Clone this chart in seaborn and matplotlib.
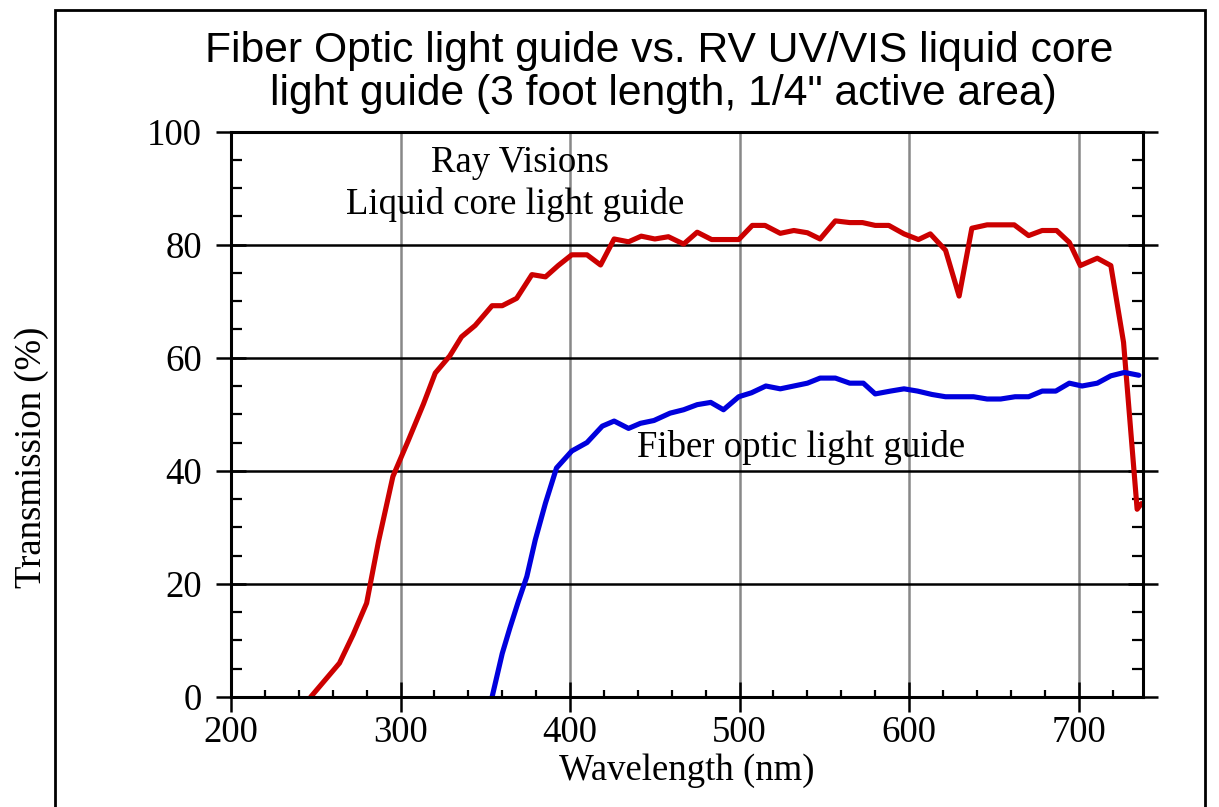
import pandas as pd
import matplotlib
matplotlib.use("Agg")
import matplotlib.pyplot as plt
import seaborn as sns
from matplotlib.ticker import MultipleLocator
from matplotlib.patches import Rectangle

# Data
red_nm = [247, 264, 272, 280, 287, 295.5, 304.5, 313.5, 320.5, 329,
          336, 344, 354, 360, 368.5, 377.5, 385.5, 393, 401, 410,
          418, 426, 434.5, 442, 450, 458, 467, 475, 483.5, 491.5,
          499.5, 507.5, 515, 524, 532, 540, 547.5, 556.5, 565, 572.5,
          580, 588, 597, 605.5, 612.5, 621.5, 629.5, 637, 646, 654,
          662, 670.5, 678.5, 687, 694.5, 701, 711, 719, 726.5, 734.5, 737]
red_pct = [0, 6, 11, 16.6, 27.5, 39, 45.3, 51.8, 57.3, 60.3,
           63.7, 65.7, 69.2, 69.2, 70.5, 74.7, 74.3, 76.3, 78.2, 78.2,
           76.4, 81, 80.5, 81.5, 81, 81.4, 80.1, 82.2, 80.9, 80.9,
           80.9, 83.4, 83.4, 82, 82.5, 82.1, 81, 84.2, 83.9, 83.9,
           83.4, 83.4, 81.9, 80.9, 81.9, 79, 70.9, 82.9, 83.5, 83.5,
           83.5, 81.6, 82.5, 82.5, 80.4, 76.3, 77.6, 76.3, 62.7, 33.2, 34.2]

blue_nm = [354, 360, 364.5, 369.5, 374.5, 379.5, 385.5, 392, 401, 410,
           419, 426, 434.5, 441.5, 449.5, 459, 467, 475, 483, 490.5,
           499.5, 507, 515.5, 524, 532, 540, 547.5, 556.5, 565, 573,
           580, 589, 597, 605, 613.5, 621.5, 629.5, 638, 646, 654,
           662.5, 670.5, 678.5, 686.5, 694.5, 702, 711, 719, 727, 735.5]
blue_pct = [0, 7.7, 12.2, 16.9, 21.3, 27.8, 34.3, 40.5, 43.5, 45,
            47.9, 48.8, 47.5, 48.4, 48.9, 50.2, 50.8, 51.7, 52.1, 50.8,
            53.1, 53.8, 55, 54.5, 55, 55.5, 56.4, 56.4, 55.5, 55.5,
            53.6, 54.1, 54.5, 54.1, 53.5, 53.1, 53.1, 53.1, 52.7, 52.7,
            53.1, 53.1, 54.1, 54.1, 55.5, 55, 55.5, 56.8, 57.4, 56.9]

guides = ["Liquid core", "Fiber optic"]
colors = {"Liquid core": "#CC0000", "Fiber optic": "#0000DD"}

df = pd.concat([
    pd.DataFrame({"nm": red_nm, "pct": red_pct, "guide": guides[0]}),
    pd.DataFrame({"nm": blue_nm, "pct": blue_pct, "guide": guides[1]}),
])

sns.set_style("white")
plt.rcParams["font.family"] = ["Liberation Serif", "DejaVu Serif"]
plt.rcParams["text.color"] = "black"
plt.rcParams["axes.labelcolor"] = "black"
plt.rcParams["xtick.color"] = "black"
plt.rcParams["ytick.color"] = "black"

fs = 26.5

fig = plt.figure(figsize=(12.19, 8.07), dpi=100)
ax = fig.add_axes([0.1895, 0.1363, 0.7482, 0.7007])

sns.lineplot(data=df, x="nm", y="pct", hue="guide", palette=colors,
             linewidth=3.7, errorbar=None, legend=False, sort=False, ax=ax)

ax.set_xlim(200, 738)
ax.set_ylim(0, 100)
ax.xaxis.set_major_locator(MultipleLocator(100))
ax.xaxis.set_minor_locator(MultipleLocator(20))
ax.yaxis.set_major_locator(MultipleLocator(20))
ax.yaxis.set_minor_locator(MultipleLocator(5))

ax.set_axisbelow(True)
ax.xaxis.grid(True, color="#888888", linewidth=1.8)
ax.yaxis.grid(True, color="black", linewidth=1.8)

for s in ax.spines.values():
    s.set_visible(True)
    s.set_color("black")
    s.set_linewidth(2.2)

ax.tick_params(axis="x", which="major", direction="inout", length=22, width=1.8,
               bottom=True, top=False, labelsize=fs, pad=2)
ax.tick_params(axis="x", which="minor", direction="in", length=5, width=1.6,
               bottom=True, top=False)
ax.tick_params(axis="y", which="major", direction="inout", length=22, width=1.8,
               left=True, right=True, labelsize=fs, pad=10)
ax.tick_params(axis="y", which="minor", direction="in", length=8, width=1.6,
               left=True, right=True)

ax.set_xlabel("Wavelength (nm)", fontsize=fs)
ax.set_ylabel("Transmission (%)", fontsize=fs)
ax.xaxis.set_label_coords(0.5, -0.10)
ax.yaxis.set_label_coords(-0.2, 0.424)

ax.text(370.6, 92.8, "Ray Visions", fontsize=fs, ha="center", va="baseline")
ax.text(367.6, 85.4, "Liquid core light guide", fontsize=fs, ha="center", va="baseline")
ax.text(439.7, 42.5, "Fiber optic light guide", fontsize=fs, ha="left", va="baseline")

fig.text(0.541, 1 - 62 / 807, "Fiber Optic light guide vs. RV UV/VIS liquid core",
         family="Liberation Sans", fontsize=30.7, ha="center", va="baseline")
fig.text(0.544, 1 - 105 / 807, "light guide (3 foot length, 1/4\" active area)",
         family="Liberation Sans", fontsize=30.7, ha="center", va="baseline")

# frame around the figure
fig.patches.append(Rectangle((55 / 1219, -0.05), (1205 - 55) / 1219, 1.05 - 10 / 807,
                             transform=fig.transFigure, fill=False,
                             edgecolor="black", linewidth=2, zorder=0))

fig.savefig("out.png", dpi=100)
